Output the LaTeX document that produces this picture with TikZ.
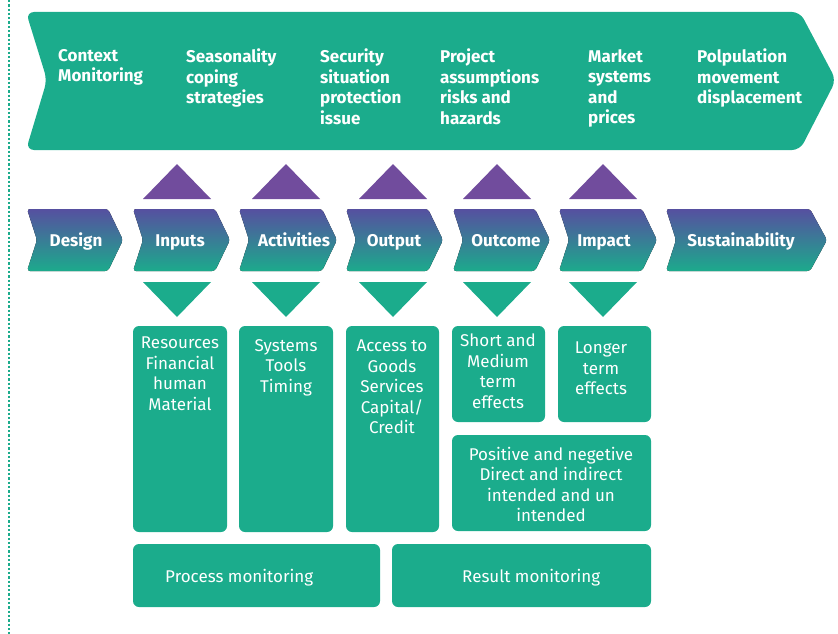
\documentclass[tikz,border=0pt]{standalone}
\usepackage{fontspec}
\setmainfont{Fira Sans}
\definecolor{mgreen}{HTML}{1BAC8C}
\definecolor{mpurple}{HTML}{714C9D}
\definecolor{gradtop}{HTML}{5650A0}
\definecolor{gradbot}{HTML}{1CAA8C}
\begin{document}
\begin{tikzpicture}[x=1pt,y=-1pt,
  banner/.style={fill=mgreen, rounded corners=8pt},
  chevfill/.style={top color=gradtop, bottom color=gradbot, draw=none, rounded corners=3pt},
  chevlabel/.style={text=white, font=\fontsize{17}{20}\selectfont\bfseries, inner sep=0pt, text height=12pt, text depth=3pt},
  toplabel/.style={text=white, font=\fontsize{17}{20.5}\selectfont\bfseries, align=left, anchor=north west, inner sep=0pt},
  box/.style={fill=mgreen, rounded corners=6pt},
  boxlabel/.style={text=white, font=\fontsize{17}{20.5}\selectfont, align=center, anchor=north, inner sep=0pt},
  uptri/.style={fill=mpurple},
  downtri/.style={fill=mgreen}]
\useasboundingbox (0,0) rectangle (838,634);

% dotted rule along the left edge
\draw[mgreen, line width=2.3pt, dash pattern=on 2.3pt off 2pt] (9,0) -- (9,634);

% top banner arrow
\fill[banner] (26,12) -- (800,12) -- (836,80) -- (800,150) -- (26,150) -- (47,80) -- cycle;
\node[toplabel] (ctx) at (58,49) {Context\\Monitoring};
\node[toplabel] (season) at (186,49) {Seasonality\\coping\\strategies};
\node[toplabel] (secur) at (320,49) {Security\\situation\\protection\\issue};
\node[toplabel] (proj) at (440,49) {Project\\assumptions\\risks and\\hazards};
\node[toplabel] (market) at (588,49) {Market\\systems\\and\\prices};
\node[toplabel] (popul) at (697,49) {Polpulation\\movement\\displacement};

% chevron chain
\foreach \nm/\l/\t/\d in {design/27/123/15, inputs/133/230/15,
    activ/239/337/15, output/346/443/15, outcome/453/550/15,
    impact/559/657/15, sustain/666/827/17}{
  \fill[chevfill] (\l,209) -- (\t-\d,209) -- (\t,240) -- (\t-\d,271) -- (\l,271) -- (\l+10,240) -- cycle;
}
\node[chevlabel] (design) at (76,242) {Design};
\node[chevlabel] (inputs) at (180,242) {Inputs};
\node[chevlabel] (activ) at (294,242) {Activities};
\node[chevlabel] (output) at (394,242) {Output};
\node[chevlabel] (outcome) at (506,242) {Outcome};
\node[chevlabel] (impact) at (604,242) {Impact};
\node[chevlabel] (sustain) at (741,242) {Sustainability};

% purple triangles above and green triangles below
\foreach \c in {177,286,393,497,603}{
  \fill[uptri] (\c,164) -- (\c+34,199) -- (\c-34,199) -- cycle;
  \fill[downtri] (\c-34,282) -- (\c+34,282) -- (\c,317) -- cycle;
}

% detail boxes
\fill[box] (133,326) rectangle (227,532);
\fill[box] (239,326) rectangle (333,532);
\fill[box] (346,326) rectangle (439,532);
\fill[box] (452,326) rectangle (545,422);
\fill[box] (558,326) rectangle (651,422);
\fill[box] (452,435) rectangle (651,531);
\fill[box] (133,544) rectangle (380,607);
\fill[box] (392,544) rectangle (651,607);

\node[boxlabel] (res) at (180,337) {Resources\\Financial\\human\\Material};
\node[boxlabel] (sys) at (286,339) {Systems\\Tools\\Timing};
\node[boxlabel] (acc) at (392,340) {Access to\\Goods\\Services\\Capital/\\Credit};
\node[boxlabel] (short) at (498,334) {Short and\\Medium\\term\\effects};
\node[boxlabel] (longer) at (601,342) {Longer\\term\\effects};
\node[boxlabel] (posneg) at (551,447) {Positive and negetive\\Direct and indirect\\intended and un\\intended};
\node[boxlabel, anchor=west] (proc) at (165,578) {Process monitoring};
\node[boxlabel, anchor=west] (resmon) at (462,578) {Result monitoring};
\end{tikzpicture}
\end{document}
